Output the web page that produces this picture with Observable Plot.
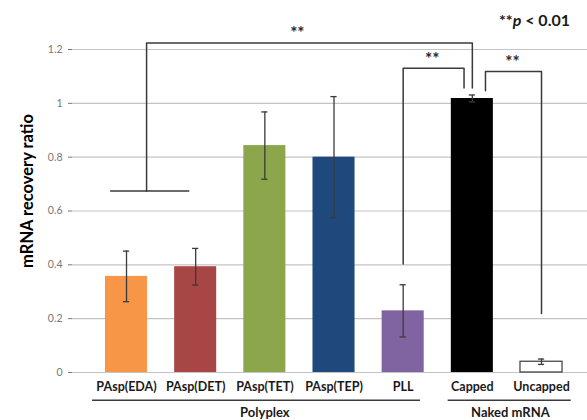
<!DOCTYPE html>
<html>
<head>
<meta charset="utf-8">
<script src="https://cdn.jsdelivr.net/npm/d3@7"></script>
<script src="https://cdn.jsdelivr.net/npm/@observablehq/plot@0.6"></script>
<style>
  html, body { margin: 0; padding: 0; background: #fff; }
  #wrap { position: relative; width: 587px; height: 420px; font-family: Lato, "Open Sans", sans-serif; }
  #legend { position: absolute; right: 17px; top: 10px; font-size: 16px; font-weight: bold; color: #1a1a1a; }
</style>
</head>
<body>
<div id="wrap"><div id="legend">**<i>p</i> &lt; 0.01</div></div>
<script>
// ---- data ----
const categories = ["PAsp(EDA)", "PAsp(DET)", "PAsp(TET)", "PAsp(TEP)", "PLL", "Capped", "Uncapped"];
const means = [0.357, 0.393, 0.843, 0.800, 0.229, 1.018, 0.040];
const errors = [0.094, 0.068, 0.125, 0.225, 0.097, 0.013, 0.010];
const colors = ["#F79646", "#A84545", "#8CA64C", "#1F497D", "#8064A2", "#000000", "#FFFFFF"];
const yTicks = [0, 0.2, 0.4, 0.6, 0.8, 1, 1.2];
const groups = [
  {name: "Polyplex", from: -0.49, to: 4.25, mid: 2},
  {name: "Naked mRNA", from: 4.65, to: 6.43, mid: 5.55}
];
// significance brackets: [category index position, ratio value]
const bracketAll = [[0.29, 0.674], [0.29, 1.224], [5.0, 1.224], [5.0, 1.057]];
const bracketPolyplex = [[-0.23, 0.674], [0.90, 0.674]];
const bracketPLL = [[4, 0.403], [4, 1.13], [4.88, 1.13], [4.88, 1.057]];
const bracketUncapped = [[5.19, 1.047], [5.19, 1.118], [6, 1.118], [6, 0.219]];
const stars = [
  {x: 2.47, y: 1.224},
  {x: 4.42, y: 1.13},
  {x: 5.58, y: 1.118}
];

const table = categories.map((c, i) => ({
  i, name: c, mean: means[i], err: errors[i], color: colors[i]
}));
const halfBar = 0.304, halfCap = 0.045;
const lineStroke = "#3a3a3a";

const chart = Plot.plot({
  width: 587,
  height: 420,
  marginLeft: 72,
  marginRight: 0,
  marginTop: 49,
  marginBottom: 48,
  style: {fontFamily: "Lato, 'Open Sans', sans-serif", background: "transparent"},
  x: {type: "linear", domain: [-0.781, 6.665]},
  y: {domain: [0, 1.2]},
  marks: [
    Plot.ruleY(yTicks, {stroke: "#c4c4c4", strokeWidth: 1.2}),
    Plot.axisY({ticks: yTicks, tickSize: 4, tickPadding: 6, tickFormat: d => String(d), fontSize: 10.5, color: "#777", label: null}),
    Plot.axisX({ticks: d3.range(categories.length), tickFormat: i => categories[i], tickSize: 0, tickPadding: 10, fontSize: 12.5, fontWeight: "bold", color: "#1a1a1a", label: null}),
    Plot.rectY(table, {x1: d => d.i - halfBar, x2: d => d.i + halfBar, y: "mean", fill: "color",
      stroke: d => d.name === "Uncapped" ? "#3a3a3a" : "none", strokeWidth: 1.2}),
    Plot.ruleX(table, {x: "i", y1: d => d.mean - d.err, y2: d => d.mean + d.err, stroke: lineStroke, strokeWidth: 1.3}),
    Plot.ruleY(table, {x1: d => d.i - halfCap, x2: d => d.i + halfCap, y: d => d.mean - d.err, stroke: lineStroke, strokeWidth: 1.3}),
    Plot.ruleY(table, {x1: d => d.i - halfCap, x2: d => d.i + halfCap, y: d => d.mean + d.err, stroke: lineStroke, strokeWidth: 1.3}),
    ...[bracketAll, bracketPolyplex, bracketPLL, bracketUncapped].map(b =>
      Plot.line(b, {x: d => d[0], y: d => d[1], stroke: lineStroke, strokeWidth: 1.5})),
    Plot.text(stars, {x: "x", y: "y", text: () => "**", dy: -9, fontSize: 17, fontWeight: "bold", fill: "#2a2a2a"}),
    Plot.ruleY(groups, {x1: "from", x2: "to", y: -0.103, stroke: lineStroke, strokeWidth: 1.5}),
    Plot.text(groups, {x: "mid", y: -0.148, text: "name", fontSize: 13, fontWeight: "bold", fill: "#1a1a1a"}),
    Plot.text(["mRNA recovery ratio"], {frameAnchor: "left", textAnchor: "middle", rotate: -90, dx: -45, dy: -20, fontSize: 16.5, fontWeight: "bold", fill: "#000"})
  ]
});
document.getElementById("wrap").prepend(chart);
</script>
</body>
</html>
